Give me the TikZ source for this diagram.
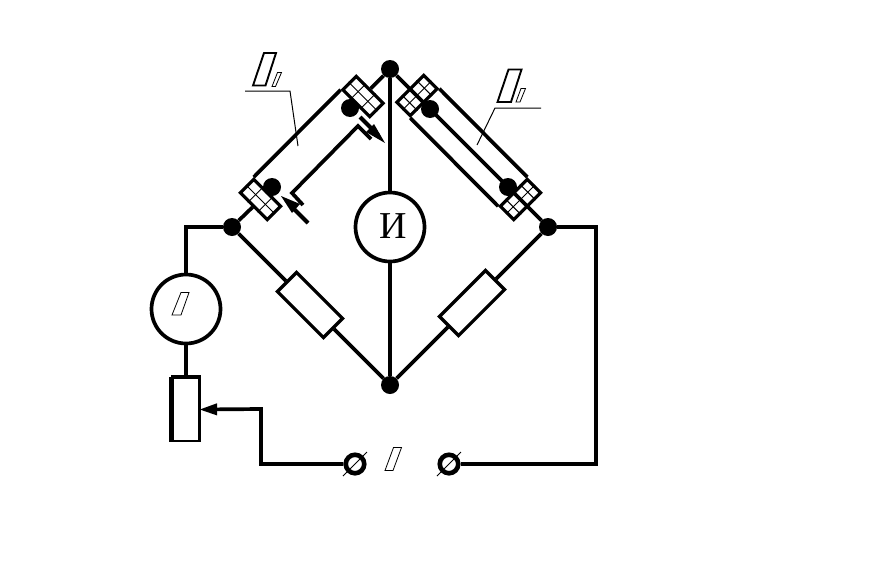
\documentclass[tikz,border=0pt]{standalone}
\usepackage{fontspec}
\setmainfont{Liberation Serif}
\usetikzlibrary{calc,arrows.meta}
\tikzset{
  wire/.style={line width=3.7pt,line join=miter},
  heavy/.style={line width=4.2pt},
  thinline/.style={line width=1pt},
  cellline/.style={line width=1pt},
  dotnode/.style={circle,fill=black,inner sep=0pt,minimum size=18pt},
  dial/.style={circle,draw,fill=white,line width=3.7pt,inner sep=0pt,minimum size=69pt},
  resistor/.style={rectangle,draw,fill=white,line width=3.3pt,inner sep=0pt,minimum width=65pt,minimum height=27pt},
  clamp/.style={rectangle,draw,fill=white,line width=3.2pt,inner sep=0pt,minimum width=38pt,minimum height=19pt},
  terminal/.style={circle,draw,fill=white,line width=4.6pt,inner sep=0pt,minimum size=18.5pt},
  glyph/.style={draw,line width=1.9pt,fill=white,line join=miter},
  smallglyph/.style={draw,line width=.8pt,fill=white}
}
\newcommand{\leftcells}[1]{%
  \draw[cellline] ($(#1.west)$) -- ($(#1.east)$);
  \foreach \f in {.333,.667}{\draw[cellline] ($(#1.north west)!\f!(#1.north east)$) -- ($(#1.south west)!\f!(#1.south east)$);}
}
\newcommand{\rightcells}[1]{%
  \draw[cellline] ($(#1.west)$) -- ($(#1.east)$);
  \foreach \f in {.25,.75}{\draw[cellline] ($(#1.north west)!\f!(#1.north east)$) -- ($(#1.south west)!\f!(#1.south east)$);}
}
\begin{document}
\begin{tikzpicture}[x=1pt,y=-1pt]
\useasboundingbox (0,0) rectangle (885,565);
\fill[white] (0,0) rectangle (885,565);

% bridge nodes
\node[dotnode] (T) at (390,69) {};
\node[dotnode] (L) at (232,227) {};
\node[dotnode] (R) at (548,227) {};
\node[dotnode] (B) at (390,385) {};

% clamps
\node[clamp,rotate=-45] (ua) at (363,96.5) {};
\node[clamp,rotate=-45] (la) at (260.5,199.5) {};
\node[clamp,rotate=45] (ub) at (417,95.5) {};
\node[clamp,rotate=45] (lb) at (520.5,199.5) {};
\leftcells{ua}
\leftcells{la}
\rightcells{ub}
\rightcells{lb}

% wires
\draw[wire] (T) -- (ua);
\draw[wire] (L) -- (la);
\draw[wire] (ua.south west) -- (la.north west);
\draw[wire] (ub.south east) -- (lb.north east);
\draw[wire] (ub.south west) -- (lb.north west);
\draw[wire] (T) -- (R);

% resistors
\node[resistor,rotate=-45] (r1) at (310,305) {};
\node[resistor,rotate=45] (r2) at (472,303) {};
\draw[wire] (L) -- (r1);
\draw[wire] (r1) -- (B);
\draw[wire] (B) -- (r2);
\draw[wire] (r2) -- (R);

% meter
\node[dial] (M) at (390,227) {};
\node[inner sep=0pt] (Mt) at (393,226) {\fontsize{38}{38}\selectfont И};
\draw[heavy] (T) -- (M);
\draw[heavy] (M) -- (B);

% bimetal contacts
\node[dotnode] (d1) at (350,108) {};
\node[dotnode] (d2) at (272,187) {};
\node[dotnode] (d3) at (430,109) {};
\node[dotnode] (d4) at (508,187) {};
\coordinate (c1) at (371,139);
\coordinate (c2) at (358,126);
\coordinate (c3) at (292,193);
\coordinate (c4) at (303,205);
\coordinate (e1) at (360,117);
\coordinate (e2) at (378,135);
\coordinate (e3) at (290,205);
\coordinate (e4) at (308,223);
\draw[wire] (c1) -- (c2) -- (c3) -- (c4);
\draw[heavy] (e1) -- (e2);
\draw[heavy] (e3) -- (e4);
\fill (385,143) -- (366,132) -- (374,124) -- cycle;
\fill (281,196) -- (300,204) -- (292,213) -- cycle;

% source branch
\node[dial] (G) at (186,309) {};
\node[rectangle,draw,fill=white,line width=2.2pt,inner sep=0pt,minimum width=27pt,minimum height=63pt] (P) at (186,409.5) {};
\draw[heavy] (P.north west) -- (P.south west);
\draw[wire] (P.north west) -- (P.north east);
\draw[wire] (L) -| (G);
\draw[wire] (G) -- (P);
\node[terminal] (t1) at (355,464) {};
\node[terminal] (t2) at (449,464) {};
\coordinate (k1) at (261,409);
\coordinate (k2) at (261,464);
\coordinate (k3) at (596,464);
\coordinate (k4) at (596,227);
\draw[wire,-{Triangle[length=18pt,width=11pt]},shorten >=-1.5pt] (t1) -- (k2) -- (k1) -- (P.east);
\draw[wire] (t2) -- (k3) -- (k4) -- (R);
\coordinate (s1a) at (343,476);
\coordinate (s1b) at (367,452);
\coordinate (s2a) at (437,476);
\coordinate (s2b) at (461,452);
\draw[thinline] (s1a) -- (s1b);
\draw[thinline] (s2a) -- (s2b);

% leaders
\coordinate (p1) at (245,91);
\coordinate (p2) at (290,91);
\coordinate (p3) at (298,146);
\coordinate (q1) at (541,108);
\coordinate (q2) at (495,108);
\coordinate (q3) at (477,145);
\draw[thinline] (p1) -- (p2) -- (p3);
\draw[thinline] (q1) -- (q2) -- (q3);

% label marks
\path[glyph] (253,85.5) -- (265.5,85.5) -- (276,53) -- (264,53) -- cycle;
\path[smallglyph] (272,86.5) -- (275.5,86.5) -- (281.5,72.5) -- (277.5,72.5) -- cycle;
\path[glyph] (497.5,102) -- (511,102) -- (521.5,69.5) -- (508.5,69.5) -- cycle;
\path[smallglyph] (516,102) -- (520,102) -- (525.5,88.5) -- (521,88.5) -- cycle;
\path[smallglyph] (172,315) -- (181,315) -- (189,292.5) -- (181,292.5) -- cycle;
\path[smallglyph] (385,470.5) -- (393,470.5) -- (401.5,447.5) -- (393.5,447.5) -- cycle;
\end{tikzpicture}
\end{document}
